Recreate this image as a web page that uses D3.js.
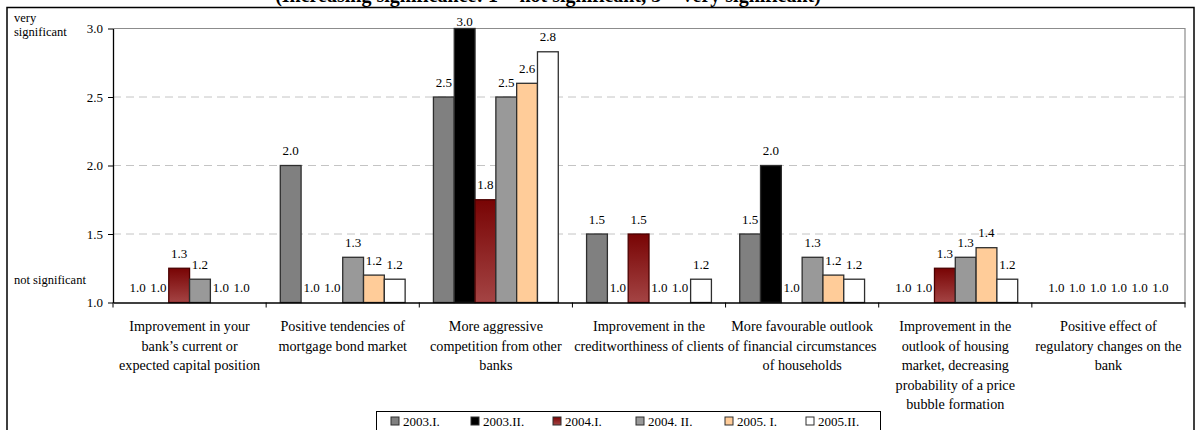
<!DOCTYPE html>
<html>
<head>
<meta charset="utf-8">
<script src="https://cdn.jsdelivr.net/npm/d3@7/dist/d3.min.js"></script>
<style>
  html, body { margin: 0; padding: 0; background: #fff; }
  svg { display: block; }
</style>
</head>
<body>
<svg id="chart" width="1197" height="430"></svg>
<script>
// Factor categories (line breaks mark where each label wraps)
const categories = [
  "Improvement in your\nbank\u2019s current or\nexpected capital position",
  "Positive tendencies of\nmortgage bond market",
  "More aggressive\ncompetition from other\nbanks",
  "Improvement in the\ncreditworthiness of clients",
  "More favourable outlook\nof financial circumstances\nof households",
  "Improvement in the\noutlook of housing\nmarket, decreasing\nprobability of a price\nbubble formation",
  "Positive effect of\nregulatory changes on the\nbank"
];

// Survey rounds
const series = ["2003.I.", "2003.II.", "2004.I.", "2004. II.", "2005. I.", "2005.II."];

// Average significance per round (1 = not significant, 3 = very significant)
const s2003I  = [1.0, 2.0,  2.5,  1.5,  1.5,  1.0,  1.0];
const s2003II = [1.0, 1.0,  3.0,  1.0,  2.0,  1.0,  1.0];
const s2004I  = [1.25, 1.0, 1.75, 1.5,  1.0,  1.25, 1.0];
const s2004II = [1.17, 1.33, 2.5, 1.0,  1.33, 1.33, 1.0];
const s2005I  = [1.0, 1.2,  2.6,  1.0,  1.2,  1.4,  1.0];
const s2005II = [1.0, 1.17, 2.83, 1.17, 1.17, 1.17, 1.0];

const yTicks = [1.0, 1.5, 2.0, 2.5, 3.0];
const yEndLabels = { top: ["very", "significant"], bottom: ["not significant"] };
const titleText = "(Increasing significance: 1 = not significant, 3 = very significant)";

const seriesValues = [s2003I, s2003II, s2004I, s2004II, s2005I, s2005II];
const fills = ["#808080", "#000000", "url(#redGrad)", "#999999", "#ffcc99", "#ffffff"];
const FONT = '"Liberation Serif", "Times New Roman", Tinos, "Noto Serif", "DejaVu Serif", serif';

const svg = d3.select("#chart");
const defs = svg.append("defs");
const grad = defs.append("linearGradient").attr("id", "redGrad")
  .attr("x1", 0).attr("y1", 0).attr("x2", 0).attr("y2", 1);
grad.append("stop").attr("offset", "0%").attr("stop-color", "#780404");
grad.append("stop").attr("offset", "100%").attr("stop-color", "#a44444");

// outer frame
svg.append("rect").attr("x", 7).attr("y", 7.5).attr("width", 1187).attr("height", 460)
  .attr("fill", "none").attr("stroke", "#000").attr("stroke-width", 1.5);

// title (sits above the frame)
svg.append("text").attr("x", 548).attr("y", 1.5)
  .attr("text-anchor", "middle").attr("font-size", 20).attr("font-weight", "bold")
  .text(titleText);

const plot = { left: 113, right: 1185, top: 28.5, bottom: 302.5 };

const y = d3.scaleLinear().domain([1, 3]).range([plot.bottom, plot.top]);
const x0 = d3.scaleBand().domain(categories).range([plot.left, plot.right]).padding(0);
const x1 = d3.scaleBand().domain(series).range([0, x0.bandwidth()])
  .paddingInner(0).paddingOuter(0.68);

// gridlines
svg.append("g").selectAll("line").data(yTicks.filter(t => t > 1 && t < 3)).join("line")
  .attr("x1", plot.left).attr("x2", plot.right)
  .attr("y1", d => y(d)).attr("y2", d => y(d))
  .attr("stroke", "#c4c4c4").attr("stroke-dasharray", "8,5").attr("stroke-width", 1);

// plot area top and right border
svg.append("path")
  .attr("d", `M${plot.left},${y(3)}H${plot.right}V${plot.bottom}`)
  .attr("fill", "none").attr("stroke", "#8c8c8c").attr("stroke-width", 1.2);

// bars
const groups = svg.append("g").selectAll("g").data(categories).join("g")
  .attr("transform", d => `translate(${x0(d)},0)`);

groups.each(function (cat, ci) {
  const g = d3.select(this);
  const rows = series.map((s, si) => ({ s, si, v: seriesValues[si][ci] }));
  g.selectAll("rect").data(rows.filter(r => r.v > 1)).join("rect")
    .attr("x", r => x1(r.s))
    .attr("y", r => y(r.v))
    .attr("width", x1.bandwidth())
    .attr("height", r => y(1) - y(r.v))
    .attr("fill", r => fills[r.si])
    .attr("stroke", r => r.si === 2 ? "#4a0000" : "#2e2e2e")
    .attr("stroke-width", 1.3);
  g.selectAll("text").data(rows).join("text")
    .attr("x", r => x1(r.s) + x1.bandwidth() / 2)
    .attr("y", r => Math.max(y(r.v) - 10.5, 25.5))
    .attr("text-anchor", "middle")
    .attr("font-size", 13)
    .text(r => d3.format(".1f")(r.v));
});

// y axis
const yAxis = svg.append("g").attr("transform", `translate(${plot.left},0)`)
  .call(d3.axisLeft(y).tickValues(yTicks).tickFormat(d3.format(".1f")).tickSize(5).tickSizeOuter(0).tickPadding(5));
yAxis.select(".domain").attr("stroke", "#000").attr("stroke-width", 1.3);
yAxis.selectAll(".tick line").attr("stroke", "#000");
yAxis.selectAll(".tick text").attr("font-size", 13);

// y end labels
svg.append("g").selectAll("text").data(yEndLabels.top).join("text")
  .attr("x", 14).attr("y", (d, i) => 22 + i * 14)
  .attr("font-size", 12.5).text(d => d);
svg.append("text").attr("x", 14).attr("y", 284).attr("font-size", 12.5)
  .text(yEndLabels.bottom[0]);

// x axis
const xAxis = svg.append("g").attr("transform", `translate(0,${plot.bottom})`)
  .call(d3.axisBottom(x0).tickSize(0).tickFormat("").tickSizeOuter(0));
xAxis.select(".domain").attr("stroke", "#000").attr("stroke-width", 1.3);
const bounds = categories.map(c => x0(c)).concat([x0(categories[categories.length - 1]) + x0.bandwidth()]);
svg.append("g").selectAll("line").data(bounds).join("line")
  .attr("x1", d => d).attr("x2", d => d)
  .attr("y1", plot.bottom).attr("y2", plot.bottom + 5)
  .attr("stroke", "#000").attr("stroke-width", 1);

// category labels
const catLabels = svg.append("g").selectAll("text").data(categories).join("text")
  .attr("text-anchor", "middle").attr("font-size", 14.2);
catLabels.each(function (c) {
  const t = d3.select(this);
  c.split("\n").forEach((line, i) => {
    t.append("tspan").attr("x", x0(c) + x0.bandwidth() / 2)
      .attr("y", 331 + i * 19.5).text(line);
  });
});

// legend
const legend = svg.append("g");
legend.append("rect").attr("x", 376.5).attr("y", 411.5).attr("width", 504).attr("height", 40)
  .attr("fill", "#fff").attr("stroke", "#000").attr("stroke-width", 1);
const legendX = [391, 471, 553, 636, 725, 806];
const items = legend.selectAll("g").data(series).join("g")
  .attr("transform", (d, i) => `translate(${legendX[i]},0)`);
items.append("rect").attr("x", 0).attr("y", 417).attr("width", 8).attr("height", 8)
  .attr("fill", (d, i) => fills[i]).attr("stroke", "#2e2e2e").attr("stroke-width", 1);
items.append("text").attr("x", 12).attr("y", 425.5).attr("font-size", 13).text(d => d);

// one serif face for every label
svg.selectAll("text").style("font-family", FONT).style("fill", "#000");
</script>
</body>
</html>
